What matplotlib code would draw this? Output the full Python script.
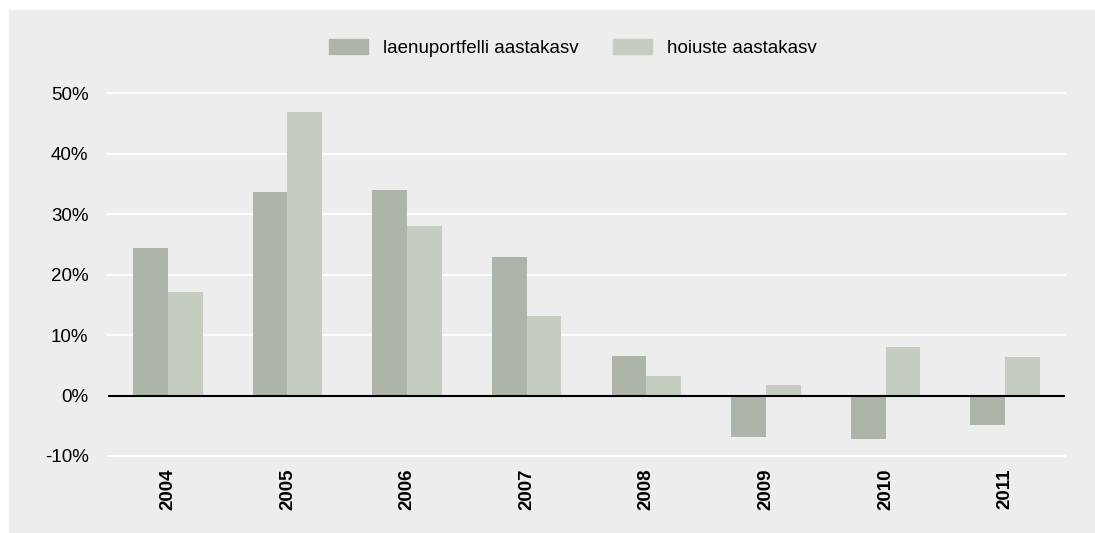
import matplotlib.pyplot as plt
from matplotlib.patches import Rectangle, Patch

# andmed
years = ["2004", "2005", "2006", "2007", "2008", "2009", "2010", "2011"]
laenud = [24.4, 33.7, 34.0, 22.9, 6.6, -6.9, -7.2, -4.8]
hoiused = [17.1, 46.9, 28.0, 13.1, 3.2, 1.7, 8.1, 6.3]
yticks = [-10, 0, 10, 20, 30, 40, 50]

dark = "#adb5a9"
light = "#c5cdc1"
bg = "#ededed"

plt.rcParams['font.family'] = ['Liberation Sans', 'DejaVu Sans']

W, H = 1095, 533
fig = plt.figure(figsize=(W / 100, H / 100), dpi=100, facecolor="white")

# hall taust
fig.patches.append(Rectangle((9 / W, 0), 1 - 9 / W, 1 - 10 / H,
                             transform=fig.transFigure, color=bg, zorder=-10))

ax = fig.add_axes([108 / W, 1 - 456 / H, (1065 - 108) / W, (456 - 93.3) / H])
ax.set_facecolor("none")

x = list(range(len(years)))
w = 0.29
ax.bar([i - w / 2 for i in x], laenud, width=w, color=dark, zorder=2,
       label="laenuportfelli aastakasv")
ax.bar([i + w / 2 for i in x], hoiused, width=w, color=light, zorder=2,
       label="hoiuste aastakasv")

for t in yticks:
    if t == 0:
        ax.axhline(0, color="black", lw=1.5, zorder=3)
    else:
        ax.axhline(t, color="white", lw=1.5, zorder=1, clip_on=False)

ax.set_xlim(-0.5, len(years) - 0.5)
ax.set_ylim(-10, 50)
ax.set_yticks(yticks)
ax.set_yticklabels([f"{t}%" for t in yticks], fontsize=13.5)
ax.set_xticks(x)
ax.set_xticklabels(years, rotation=90, fontsize=13.5, fontweight="bold")
ax.tick_params(axis="y", length=0, pad=14)
ax.tick_params(axis="x", length=0, pad=9)
for s in ax.spines.values():
    s.set_visible(False)

handles = [Patch(color=dark, label="laenuportfelli aastakasv"),
           Patch(color=light, label="hoiuste aastakasv")]
fig.legend(handles=handles, loc="center", ncol=2, frameon=False,
           bbox_to_anchor=(573 / W, 1 - 48 / H), fontsize=13.5,
           handlelength=2.1, handleheight=0.9, handletextpad=0.8,
           columnspacing=1.8)

fig.savefig("out.png", dpi=100, facecolor="white")
